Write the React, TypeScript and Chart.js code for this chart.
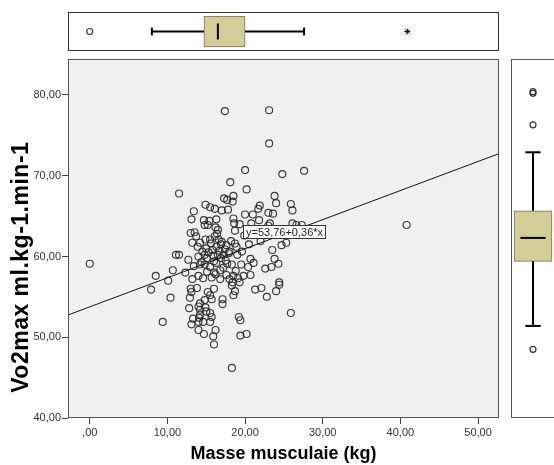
import React, { useEffect, useRef } from "react";
import { Chart, registerables } from "chart.js";
Chart.register(...registerables);

// ---- Data ----
const xMuscle = [
  0, 40.8,
  17.4, 23.1, 23.1, 20.0, 24.8, 27.6, 18.1, 20.2,
  11.5, 14.9, 15.5, 16.1, 17.0, 17.3, 13.4, 13.1, 14.7, 15.4, 16.3, 14.8, 15.2, 16.2, 16.5, 13.0, 13.5, 13.7, 13.2, 14.2, 14.9, 15.5, 16.1, 16.6, 11.1, 11.5, 12.7, 14.0, 14.8, 15.1, 15.9, 16.5, 16.9, 13.4, 14.2, 14.8, 15.5, 16.3, 16.8, 8.5, 10.7, 10.1, 14.0, 14.6, 15.7, 16.8,
  18.5, 17.7, 18.4, 23.8, 21.9, 24.0, 25.9, 26.1, 17.8, 20.0, 21.0, 21.7, 23.0, 23.6, 18.5, 18.6, 18.7, 20.8, 21.8, 23.2, 23.0, 26.1, 27.3, 17.0, 17.6, 18.7, 18.9, 18.0, 17.2, 23.5, 24.7, 20.7, 21.1, 20.4, 22.6, 23.4, 17.6, 18.5, 19.1, 19.8, 20.7, 18.0, 24.4,
  7.9, 10.4, 9.4, 13.0, 13.1, 13.8, 12.9, 15.2, 15.5, 16.0, 14.8, 15.7, 17.1, 17.1, 12.8, 14.0, 14.2, 14.9, 13.3, 14.1, 14.0, 14.6, 13.1, 15.5, 14.0, 14.7, 16.2, 15.9, 16.0,
  18.5, 18.7, 18.3, 21.3, 22.1, 22.8, 24.0, 24.4, 25.9, 19.2, 19.4, 19.4, 20.2, 18.3,
  24.3, 23.8, 26.6, 25.3, 15.0, 15.8, 16.3, 14.5, 17.5, 18.3, 19.0, 19.5, 16.0, 17.2, 18.8, 12.3, 13.2, 19.9, 20.5, 21.5, 19.3, 22.0, 14.2, 18.4, 19.3, 15.5, 15.7, 15.0, 14.2,
  15.3, 16.0, 16.7, 17.4, 14.4, 15.6, 16.4, 17.9, 18.2, 13.9, 16.9, 17.7, 15.1, 16.2, 19.6,
];
const yVo2 = [
  59.1, 63.9,
  78.0, 78.1, 74.0, 70.7, 70.2, 70.6, 69.2, 68.3,
  67.8, 66.4, 66.1, 65.9, 65.7, 67.2, 65.6, 64.6, 64.5, 64.4, 64.6, 63.9, 63.9, 63.6, 63.3, 62.9, 63.0, 62.5, 61.7, 61.7, 62.1, 62.1, 62.5, 62.1, 60.2, 60.2, 59.6, 60.0, 60.2, 59.8, 60.1, 60.2, 59.8, 58.8, 59.0, 59.0, 58.7, 59.2, 58.3, 57.6, 58.3, 57.0, 57.6, 57.3, 57.4, 57.2,
  67.5, 67.0, 66.8, 67.5, 66.3, 66.6, 66.5, 65.7, 65.8, 65.2, 65.2, 65.9, 65.4, 65.3, 64.7, 64.1, 63.2, 64.1, 64.5, 64.1, 63.8, 64.1, 63.9, 61.8, 61.4, 61.6, 61.2, 60.6, 60.2, 60.8, 61.4, 59.7, 59.2, 58.7, 58.5, 58.7, 57.7, 57.6, 57.3, 57.6, 57.7, 57.2, 56.8,
  55.9, 54.9, 51.9, 56.0, 55.6, 56.1, 54.9, 55.6, 55.2, 56.0, 54.6, 54.7, 54.7, 54.1, 53.6, 53.8, 53.4, 53.7, 52.3, 52.4, 51.9, 51.9, 51.6, 51.9, 50.9, 50.4, 50.9, 50.1, 49.1,
  55.2, 55.7, 56.4, 55.9, 56.1, 55.0, 55.7, 56.5, 53.0, 52.5, 52.1, 50.2, 50.4, 46.2,
  59.1, 59.7, 63.9, 61.7, 61.0, 60.8, 61.2, 60.6, 59.5, 59.0, 60.2, 59.0, 58.0, 58.6, 58.2, 58.0, 57.2, 62.6, 61.5, 62.8, 64.0, 61.9, 54.2, 56.8, 56.8, 53.0, 52.5, 53.2, 52.8,
  60.5, 59.4, 60.7, 60.9, 59.3, 61.6, 62.8, 60.4, 61.9, 61.2, 61.5, 59.1, 58.1, 57.8, 60.6,
];
const xTicks = [0, 10, 20, 30, 40, 50];
const yTicks = [40, 50, 60, 70, 80];
const fitIntercept = 53.76;
const fitSlope = 0.36;
const fitLabel = "y=53,76+0,36*x";
const fitLabelAt = [19.7, 63.0];
// box plot of x: [whiskerLow, Q1, median, Q3, whiskerHigh]
const xBox = [8.0, 14.7, 16.5, 20.0, 27.6];
const xOutliers = [0];
const xExtremes = [40.9];
// box plot of y
const yBox = [51.4, 59.4, 62.3, 65.65, 72.9];
const yOutliers = [80.2, 80.4, 76.3, 48.5];

const xTitle = "Masse musculaie (kg)";
const yTitle = "Vo2max ml.kg-1.min-1";

const X_MIN = -2.8, X_MAX = 52.7, Y_MIN = 40, Y_MAX = 84.45;
const FONT = "'Liberation Sans', Arial, sans-serif";
const BOX_FILL = "#d3ce98";
const BOX_EDGE = "#6f6f5a";

const fmt = (v: number) => (v === 0 ? ",00" : v.toFixed(2).replace(".", ","));

const framePlugin = (color: string, bg: string | null, extraRight = 0) => ({
  id: "frame",
  beforeDatasetsDraw(chart: any) {
    if (!bg) return;
    const { left, top, width, height } = chart.chartArea;
    const ctx = chart.ctx;
    ctx.save();
    ctx.fillStyle = bg;
    ctx.fillRect(left, top, width, height);
    ctx.restore();
  },
  afterDraw(chart: any) {
    const { left, top, width, height } = chart.chartArea;
    const ctx = chart.ctx;
    ctx.save();
    ctx.strokeStyle = color;
    ctx.lineWidth = 1;
    ctx.strokeRect(left + 0.5, top + 0.5, width - 1 + extraRight, height - 1);
    ctx.restore();
  },
});

const labelPlugin = {
  id: "fitLabel",
  afterDatasetsDraw(chart: any) {
    const ctx = chart.ctx;
    const px = Math.round(chart.scales.x.getPixelForValue(fitLabelAt[0]));
    const py = Math.round(chart.scales.y.getPixelForValue(fitLabelAt[1]));
    ctx.save();
    ctx.font = `11px ${FONT}`;
    const w = Math.round(ctx.measureText(fitLabel).width + 6);
    const h = 14;
    ctx.fillStyle = "#ffffff";
    ctx.fillRect(px, py - h / 2, w, h);
    ctx.strokeStyle = "#333";
    ctx.lineWidth = 1;
    ctx.strokeRect(px + 0.5, py - h / 2 + 0.5, w - 1, h - 1);
    ctx.fillStyle = "#222";
    ctx.textBaseline = "middle";
    ctx.fillText(fitLabel, px + 3, py + 1);
    ctx.restore();
  },
};

// y-axis title, centred like the SPSS layout (slightly below the plot centre)
const yTitlePlugin = {
  id: "yTitle",
  afterDraw(chart: any) {
    const ctx = chart.ctx;
    const ys = chart.scales.y;
    const cy = ys.getPixelForValue(Y_MIN + (Y_MAX - Y_MIN) * 0.42);
    ctx.save();
    ctx.translate(22, cy);
    ctx.rotate(-Math.PI / 2);
    ctx.font = `bold 23px ${FONT}`;
    try { (ctx as any).letterSpacing = "0.5px"; } catch (e) {}
    ctx.fillStyle = "#000";
    ctx.textAlign = "center";
    ctx.textBaseline = "middle";
    ctx.fillText(yTitle, 0, 0);
    ctx.restore();
  },
};

const seg = (x1: number, y1: number, x2: number, y2: number, color: string, width: number, order: number) => ({
  type: "line" as const,
  data: [{ x: x1, y: y1 }, { x: x2, y: y2 }],
  borderColor: color,
  borderWidth: width,
  pointRadius: 0,
  fill: false,
  order,
});

export default function App() {
  const mainRef = useRef<HTMLCanvasElement>(null);
  const topRef = useRef<HTMLCanvasElement>(null);
  const rightRef = useRef<HTMLCanvasElement>(null);

  useEffect(() => {
    const n = Math.min(xMuscle.length, yVo2.length);
    const pts = [];
    for (let i = 0; i < n; i++) pts.push({ x: xMuscle[i], y: yVo2[i] });

    const main = new Chart(mainRef.current!, {
      type: "scatter",
      data: {
        datasets: [
          {
            type: "line",
            data: [
              { x: X_MIN, y: fitIntercept + fitSlope * X_MIN },
              { x: X_MAX, y: fitIntercept + fitSlope * X_MAX },
            ],
            borderColor: "#111",
            borderWidth: 1,
            pointRadius: 0,
            fill: false,
            order: 0,
          } as any,
          {
            data: pts,
            pointRadius: 3.5,
            pointBorderWidth: 1.15,
            pointBorderColor: "rgba(40,40,40,0.9)",
            pointBackgroundColor: "rgba(0,0,0,0)",
            order: 1,
          },
        ],
      },
      options: {
        animation: false,
        responsive: false,
        devicePixelRatio: 1,
        events: [],
        layout: { autoPadding: false, padding: { left: 0, top: 59, right: 55, bottom: 0 } },
        plugins: { legend: { display: false }, tooltip: { enabled: false } },
        scales: {
          x: {
            type: "linear",
            min: X_MIN,
            max: X_MAX,
            afterBuildTicks: (s: any) => { s.ticks = xTicks.map((v) => ({ value: v })); },
            afterFit: (s: any) => { s.height = 47; },
            grid: { drawOnChartArea: false, drawTicks: true, tickLength: 6, color: "#444" },
            border: { display: false },
            ticks: { font: { family: FONT, size: 11 }, color: "#333", padding: 2, maxRotation: 0, autoSkip: false, callback: (v: any) => fmt(Number(v)) },
            title: { display: true, text: xTitle, color: "#000", font: { family: FONT, size: 18, weight: "bold" }, padding: { top: 0, bottom: 0 } },
          },
          y: {
            type: "linear",
            min: Y_MIN,
            max: Y_MAX,
            afterBuildTicks: (s: any) => { s.ticks = yTicks.map((v) => ({ value: v })); },
            afterFit: (s: any) => { s.width = 68; },
            grid: { drawOnChartArea: false, drawTicks: true, tickLength: 6, color: "#444" },
            border: { display: false },
            ticks: { font: { family: FONT, size: 11 }, color: "#333", padding: 1, autoSkip: false, callback: (v: any) => fmt(Number(v)) },
            title: { display: false, text: yTitle },
          },
        },
      } as any,
      plugins: [framePlugin("#555", "#f0f0f0"), labelPlugin, yTitlePlugin],
    });

    const top = new Chart(topRef.current!, {
      type: "scatter",
      data: {
        datasets: [
          seg(xBox[2], -0.82, xBox[2], 0.82, "#000", 2, 0),
          seg(xBox[0], 0, xBox[1], 0, "#000", 2, 1),
          seg(xBox[3], 0, xBox[4], 0, "#000", 2, 1),
          seg(xBox[0], -0.4, xBox[0], 0.4, "#000", 2, 1),
          seg(xBox[4], -0.4, xBox[4], 0.4, "#000", 2, 1),
          {
            type: "bar",
            indexAxis: "y",
            data: [{ x: [xBox[1], xBox[3]], y: 0 }],
            backgroundColor: BOX_FILL,
            borderColor: BOX_EDGE,
            borderWidth: 1,
            borderSkipped: false,
            barThickness: 31,
            order: 2,
          } as any,
          {
            data: xOutliers.map((v) => ({ x: v, y: 0 })),
            pointRadius: 3,
            pointBorderWidth: 1.2,
            pointBorderColor: "#333",
            pointBackgroundColor: "rgba(0,0,0,0)",
            order: 0,
          },
          {
            data: xExtremes.map((v) => ({ x: v, y: 0 })),
            pointStyle: "star",
            pointRadius: 3,
            pointBorderWidth: 1,
            pointBorderColor: "#111",
            order: 0,
          },
        ] as any,
      },
      options: {
        animation: false,
        responsive: false,
        devicePixelRatio: 1,
        events: [],
        layout: { autoPadding: false, padding: 0 },
        plugins: { legend: { display: false }, tooltip: { enabled: false } },
        scales: {
          x: { type: "linear", min: X_MIN, max: X_MAX, display: false },
          y: { type: "linear", min: -1, max: 1, display: false },
        },
      } as any,
      plugins: [framePlugin("#333", "#ffffff")],
    });

    const right = new Chart(rightRef.current!, {
      type: "scatter",
      data: {
        datasets: [
          seg(-0.86, yBox[2], 0.86, yBox[2], "#000", 2, 0),
          seg(0, yBox[0], 0, yBox[1], "#000", 2, 1),
          seg(0, yBox[3], 0, yBox[4], "#000", 2, 1),
          seg(-0.52, yBox[0], 0.52, yBox[0], "#000", 2, 1),
          seg(-0.52, yBox[4], 0.52, yBox[4], "#000", 2, 1),
          {
            type: "bar",
            indexAxis: "x",
            data: [{ x: 0, y: [yBox[1], yBox[3]] }],
            backgroundColor: BOX_FILL,
            borderColor: BOX_EDGE,
            borderWidth: 1,
            borderSkipped: false,
            barThickness: 38,
            order: 2,
          } as any,
          {
            data: yOutliers.map((v) => ({ x: 0, y: v })),
            pointRadius: 3,
            pointBorderWidth: 1.2,
            pointBorderColor: "#333",
            pointBackgroundColor: "rgba(0,0,0,0)",
            order: 0,
          },
        ] as any,
      },
      options: {
        animation: false,
        responsive: false,
        devicePixelRatio: 1,
        events: [],
        layout: { autoPadding: false, padding: 0 },
        plugins: { legend: { display: false }, tooltip: { enabled: false } },
        scales: {
          x: { type: "linear", min: -1, max: 1, display: false },
          y: { type: "linear", min: Y_MIN, max: Y_MAX, display: false },
        },
      } as any,
      plugins: [framePlugin("#555", "#ffffff", 4)],
    });

    return () => {
      main.destroy();
      top.destroy();
      right.destroy();
    };
  }, []);

  return (
    <div style={{ position: "absolute", left: 0, top: 0, width: 554, height: 465, overflow: "hidden", background: "#fff" }}>
      <canvas ref={mainRef} width={554} height={465} style={{ position: "absolute", left: 0, top: 0 }} />
      <canvas ref={topRef} width={431} height={39} style={{ position: "absolute", left: 68, top: 12 }} />
      <canvas ref={rightRef} width={44} height={359} style={{ position: "absolute", left: 511, top: 59 }} />
    </div>
  );
}
